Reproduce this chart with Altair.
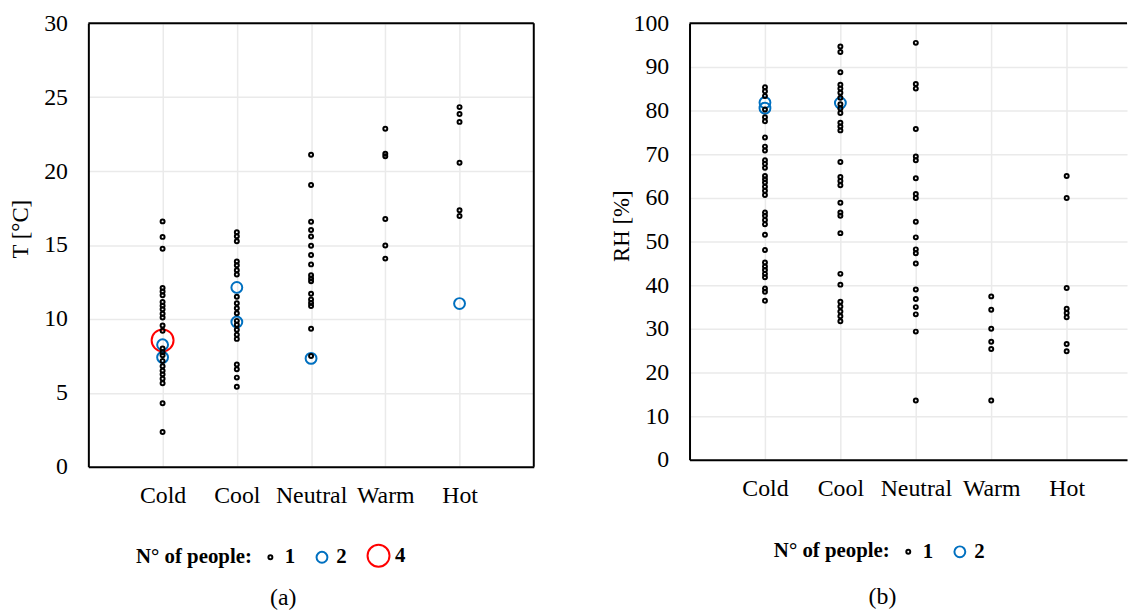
import altair as alt
import pandas as pd

categories = ["Cold", "Cool", "Neutral", "Warm", "Hot"]

# ---- (a) air temperature T [°C] ----
t_cold_1 = [16.6, 15.55, 14.75, 12.1, 11.85, 11.6, 11.15, 10.9, 10.65, 10.35, 10.1, 9.55, 9.2,
            8.0, 7.75, 7.55, 7.15, 6.8, 6.5, 6.25, 5.95, 5.65, 4.3, 2.35]
t_cold_2 = [8.25, 7.4]
t_cold_4 = [8.55]
t_cool_1 = [15.86, 15.6, 15.26, 13.89, 13.63, 13.29, 13.0, 11.5, 11.06, 10.72, 10.39, 9.87, 9.6,
            9.27, 8.93, 8.65, 6.92, 6.59, 6.03, 5.41]
t_cool_2 = [12.13, 9.79]
t_neutral_1 = [21.11, 19.06, 16.58, 16.02, 15.57, 14.95, 14.32, 13.69, 12.96, 12.73, 12.55, 11.71,
               11.31, 11.08, 10.88, 9.34, 7.49]
t_neutral_2 = [7.33]
t_warm_1 = [22.86, 21.18, 21.0, 16.76, 14.97, 14.08]
t_hot_1 = [24.33, 23.86, 23.33, 20.56, 17.36, 16.96]
t_hot_2 = [11.04]

# ---- (b) relative humidity RH [%] ----
rh_cold_1 = [85.34, 84.44, 83.32, 80.27, 78.48, 77.58, 73.83, 71.75, 70.85, 68.61, 67.85, 66.88,
             65.02, 64.26, 63.52, 62.56, 61.66, 60.67, 56.64, 55.9, 54.93, 53.95, 51.57, 48.05,
             45.2, 44.3, 43.5, 42.6, 41.84, 39.24, 38.48, 36.46]
rh_cold_2 = [81.84, 80.56]
rh_cool_1 = [94.69, 93.41, 88.79, 85.94, 85.04, 84.08, 82.96, 81.46, 80.49, 79.44, 77.2, 76.37,
             75.47, 68.23, 64.8, 63.9, 62.91, 58.88, 56.64, 55.9, 51.93, 42.6, 40.13, 36.23,
             35.11, 33.99, 32.87, 31.75]
rh_cool_2 = [81.75]
rh_neutral_1 = [95.52, 86.1, 85.04, 75.78, 69.51, 68.61, 64.48, 60.9, 60.0, 54.55, 50.96, 48.21,
                47.31, 44.98, 39.01, 36.84, 34.98, 33.32, 29.37, 13.59]
rh_warm_1 = [37.44, 34.37, 30.04, 27.04, 25.4, 13.59]
rh_hot_1 = [65.02, 60.0, 39.37, 34.6, 33.63, 32.65, 26.52, 24.89]

t_ticks = [0, 5, 10, 15, 20, 25, 30]
rh_ticks = [0, 10, 20, 30, 40, 50, 60, 70, 80, 90, 100]

FONT = "Liberation Serif"
BLUE = "#0070C0"
GRID = "#EAEAEA"


def frame(series):
    rows = []
    for cat, n, vals in series:
        for v in vals:
            rows.append({"cat": cat, "pos": categories.index(cat) + 1, "n": n, "v": v})
    return pd.DataFrame(rows)


df_a = frame([
    ("Cold", 4, t_cold_4),
    ("Cold", 2, t_cold_2), ("Cool", 2, t_cool_2), ("Neutral", 2, t_neutral_2), ("Hot", 2, t_hot_2),
    ("Cold", 1, t_cold_1), ("Cool", 1, t_cool_1), ("Neutral", 1, t_neutral_1),
    ("Warm", 1, t_warm_1), ("Hot", 1, t_hot_1),
])
df_b = frame([
    ("Cold", 2, rh_cold_2), ("Cool", 2, rh_cool_2),
    ("Cold", 1, rh_cold_1), ("Cool", 1, rh_cool_1), ("Neutral", 1, rh_neutral_1),
    ("Warm", 1, rh_warm_1), ("Hot", 1, rh_hot_1),
])
one = pd.DataFrame({"k": [0]})

label_expr = "[" + ",".join("'%s'" % c for c in [""] + categories) + "][datum.value]"


def legend(lx, ly):
    return alt.Legend(
        title="N° of people:", orient="none", direction="horizontal", titleOrient="left",
        legendX=lx, legendY=ly, titleFont=FONT, titleFontSize=21, titleFontWeight="bold",
        titleColor="black", titlePadding=8, labelFont=FONT, labelFontSize=21,
        labelFontWeight="bold", labelColor="black", symbolType="circle",
        symbolFillColor="transparent", symbolStrokeWidth=2, labelOffset=4, columnPadding=16,
        titleBaseline="middle",
    )


def panel(df, ytitle, ydom, yticks, width, height, xmax, sdom, srng, crng,
          lx, ly, caption, cap_x, cap_y, tpad, title_y, boxed):
    xscale = alt.Scale(domain=[0, xmax], nice=False, zero=False)
    yscale = alt.Scale(domain=ydom, nice=False, zero=True)
    x = alt.X("pos:Q", scale=xscale,
              axis=alt.Axis(values=[1, 2, 3, 4, 5], labelExpr=label_expr, title=caption,
                            titleFont=FONT, titleFontSize=24, titleFontWeight="normal",
                            titleColor="black", titleX=cap_x, titleY=cap_y,
                            titleAlign="center", titleBaseline="middle",
                            grid=True, gridColor=GRID, gridWidth=1.5, ticks=False,
                            domain=True, domainColor="black", domainWidth=2,
                            labelFont=FONT, labelFontSize=24, labelColor="black",
                            labelPadding=17, labelFlush=False))
    y = alt.Y("v:Q", scale=yscale,
              axis=alt.Axis(values=yticks, title=ytitle, titleFont=FONT, titleFontSize=23,
                            titleFontWeight="normal", titleColor="black", titlePadding=tpad,
                            titleY=title_y,
                            grid=True, gridColor=GRID, gridWidth=1.5, ticks=False,
                            domain=True, domainColor="black", domainWidth=2,
                            labelFont=FONT, labelFontSize=24, labelColor="black",
                            labelPadding=21, labelFlush=False))
    pts = alt.Chart(df).mark_point(shape="circle", filled=False, strokeWidth=2, opacity=1).encode(
        x=x, y=y,
        size=alt.Size("n:O", scale=alt.Scale(type="ordinal", domain=sdom, range=srng),
                      legend=legend(lx, ly)),
        color=alt.Color("n:O", scale=alt.Scale(domain=sdom, range=crng), legend=legend(lx, ly)),
    )
    top = alt.Chart(one).mark_rule(color="black", strokeWidth=2).encode(y=alt.datum(ydom[1]))
    layers = [pts, top]
    if boxed:
        rside = alt.Chart(one).mark_rule(color="black", strokeWidth=2).encode(x=alt.datum(xmax))
        layers.append(rside)
    return alt.layer(*layers).properties(width=width, height=height,
                                         view=alt.ViewBackground(stroke="transparent"))


left = panel(df_a, "T [°C]", [0, 30], t_ticks, 449, 447, 6, [1, 2, 4], [16, 120, 490],
             ["#000000", BLUE, "#FF0000"], 48, 524, "(a)", 196, 132, 11, 207, True)
right = panel(df_b, "RH [%]", [0, 100], rh_ticks, 441, 440, 5.8, [1, 2], [16, 120],
              ["#000000", BLUE], 85, 522, "(b)", 194, 138, 0, 204, False)

chart = alt.hconcat(left, right, spacing=74).resolve_scale(
    size="independent", color="independent"
).properties(padding={"left": 1, "top": 0, "right": 0, "bottom": 0}).configure(
    background="white"
)

chart.save("out.html", embed_options={"renderer": "svg", "actions": False})
